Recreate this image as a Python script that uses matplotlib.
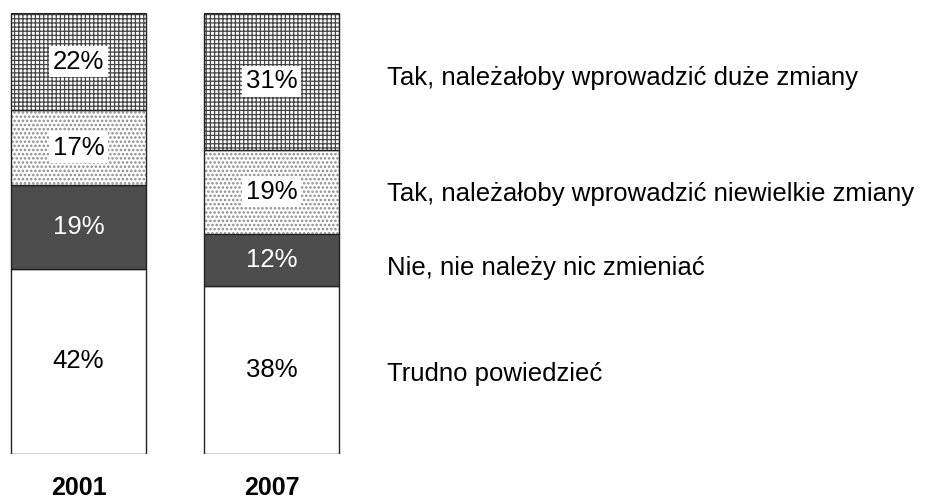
import matplotlib.pyplot as plt
import numpy as np

plt.rcParams['font.family'] = ['Liberation Sans', 'DejaVu Sans']

# dane
years = ['2001', '2007']
answers = ['Trudno powiedzieć',
           'Nie, nie należy nic zmieniać',
           'Tak, należałoby wprowadzić niewielkie zmiany',
           'Tak, należałoby wprowadzić duże zmiany']
trudno = [42, 38]
nie = [19, 12]
male_zmiany = [17, 19]
duze_zmiany = [22, 31]

series = [trudno, nie, male_zmiany, duze_zmiany]
faces = ['white', '#4d4d4d', 'white', 'white']
hatches = [None, None, '....', '++++']
hatch_cols = [None, None, '#8a8a8a', '#444444']
hatch_lw = [1.0, 1.0, 1.2, 0.9]
text_cols = ['black', 'white', 'black', 'black']
boxed = [False, False, True, True]
# pozycje opisów (linia bazowa, w pikselach od góry)
label_base_px = [381, 275, 201, 85]

fig = plt.figure(figsize=(9.31, 4.99), dpi=100)
ax = fig.add_axes([0, 45 / 499, 1, 441 / 499])
ax.set_xlim(-78.5 / 193, (931 - 78.5) / 193)
ax.set_ylim(0, 100)
ax.axis('off')
px = 441 / 100  # pikseli na 1%

x = np.arange(len(years))
width = 135 / 193
bottom = np.zeros(len(years))
for vals, fc, h, hc, hl, tc, bx in zip(series, faces, hatches, hatch_cols,
                                       hatch_lw, text_cols, boxed):
    vals = np.array(vals, dtype=float)
    plt.rcParams['hatch.linewidth'] = hl
    if h:
        ax.bar(x, vals, width, bottom=bottom, color=fc, hatch=h,
               edgecolor=hc, linewidth=0)
    else:
        ax.bar(x, vals, width, bottom=bottom, color=fc, linewidth=0)
    # obramowanie
    ax.bar(x, vals, width, bottom=bottom, fill=False, edgecolor='#222222',
           linewidth=1.0)
    for xi, b, v in zip(x, bottom, vals):
        kw = {}
        if bx:
            kw['bbox'] = dict(facecolor='white', edgecolor='none', pad=2.5)
        ax.text(xi, b + v / 2, f'{int(v)}%', ha='center', va='center',
                fontsize=18.5, color=tc, **kw)
    bottom += vals

# opisy kategorii obok słupka 2007
for name, ypx in zip(answers, label_base_px):
    ax.text(1.6, (454 - ypx) / px, name, ha='left', va='baseline',
            fontsize=18.5, clip_on=False)

for xi, yr in zip(x, years):
    ax.text(xi, (454 - 495) / px, yr, ha='center', va='baseline',
            fontsize=18, fontweight='bold', clip_on=False)

fig.savefig('out.png', dpi=100)
